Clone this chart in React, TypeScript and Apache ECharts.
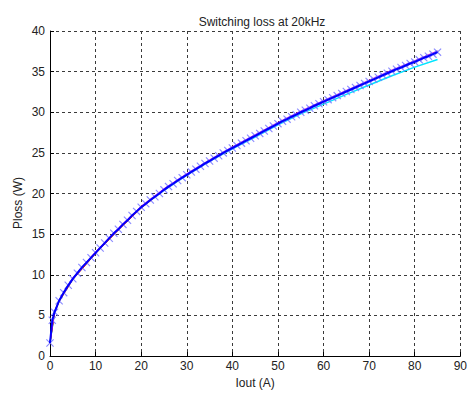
import React, { useEffect, useRef } from "react";
import * as echarts from "echarts";

const titleText = "Switching loss at 20kHz";
const xName = "Iout (A)";
const yName = "Ploss (W)";

const iout = [
  0, 0.5, 1, 2, 3, 4, 5, 6, 7, 8, 9, 10, 11, 12, 13, 14, 15, 16, 17, 18, 19, 20,
  21, 22, 23, 24, 25, 26, 27, 28, 29, 30, 31, 32, 33, 34, 35, 36, 37, 38, 39, 40,
  41, 42, 43, 44, 45, 46, 47, 48, 49, 50, 51, 52, 53, 54, 55, 56, 57, 58, 59, 60,
  61, 62, 63, 64, 65, 66, 67, 68, 69, 70, 71, 72, 73, 74, 75, 76, 77, 78, 79, 80,
  81, 82, 83, 84, 85,
];
const ploss = [
  1.6, 4.4, 5.4, 6.8, 7.8, 8.7, 9.5, 10.2, 10.9, 11.5, 12.1, 12.7, 13.3, 13.9, 14.5, 15.1, 15.6, 16.2, 16.7, 17.3, 17.8, 18.3,
  18.75, 19.2, 19.6, 20.0, 20.45, 20.85, 21.2, 21.6, 21.95, 22.3, 22.65, 23.0, 23.35, 23.7, 24.0, 24.35, 24.65, 25.0, 25.3, 25.6,
  25.9, 26.2, 26.5, 26.8, 27.1, 27.4, 27.7, 28.0, 28.3, 28.6, 28.9, 29.15, 29.45, 29.7, 30.0, 30.25, 30.5, 30.8, 31.05, 31.3,
  31.55, 31.8, 32.05, 32.3, 32.55, 32.8, 33.05, 33.3, 33.55, 33.8, 34.05, 34.3, 34.55, 34.8, 35.05, 35.3, 35.5, 35.75, 36.0, 36.2,
  36.45, 36.7, 36.9, 37.15, 37.4,
];

const coarseX = [0, 1, 2, 5, 10, 15, 20, 25, 30, 35, 40, 45, 50, 55, 60, 65, 70, 75, 80, 85];
const magentaY = [1.7, 5.5, 6.9, 9.65, 12.85, 15.75, 18.45, 20.6, 22.45, 24.15, 25.75, 27.25, 28.75, 30.15, 31.45, 32.7, 33.95, 35.2, 36.35, 37.55];
const cyanY = [1.6, 5.4, 6.8, 9.5, 12.7, 15.6, 18.3, 20.4, 22.25, 23.95, 25.5, 26.95, 28.45, 29.8, 31.0, 32.2, 33.35, 34.5, 35.55, 36.5];
const redY = [1.5, 5.3, 6.7, 9.4, 12.6, 15.5, 18.2, 20.4, 22.3, 24.0, 25.6, 27.1, 28.6, 30.0, 31.3, 32.55, 33.8, 35.05, 36.2, 37.4];
const greenY = [1.6, 5.4, 6.8, 9.5, 12.7, 15.6, 18.3, 20.45, 22.3, 24.0, 25.6, 27.1, 28.6, 30.0, 31.3, 32.6, 33.85, 35.1, 36.3, 37.5];

const pair = (xs: number[], ys: number[]) => xs.map((x, i) => [x, ys[i]]);

const X_SYMBOL = "path://M0,1L1,0L5,4L9,0L10,1L6,5L10,9L9,10L5,6L1,10L0,9L4,5Z";

export default function App() {
  const ref = useRef<HTMLDivElement>(null);
  useEffect(() => {
    document.body.style.margin = "0";
    const chart = echarts.init(ref.current!, null, { renderer: "svg" });
    const font = "Arial, 'Liberation Sans', Helvetica, sans-serif";
    const gridLine = { show: true, lineStyle: { color: "#3a3a3a", width: 1, type: [3, 3] as number[] } };
    const lineSeries = (name: string, data: number[][], color: string, width: number) => ({
      name,
      type: "line",
      data,
      showSymbol: false,
      symbol: "none",
      smooth: false,
      lineStyle: { color, width },
      itemStyle: { color },
      z: 2,
    });
    chart.setOption({
      animation: false,
      backgroundColor: "#ffffff",
      textStyle: { fontFamily: font },
      title: {
        text: titleText,
        left: 257,
        textAlign: "center",
        top: 11,
        textStyle: { fontSize: 12, fontWeight: "normal", color: "#222", fontFamily: font },
      },
      grid: { left: 50, right: 5, top: 31, bottom: 35, containLabel: false },
      xAxis: {
        type: "value",
        min: 0,
        max: 90,
        interval: 10,
        name: xName,
        nameLocation: "middle",
        nameGap: 21,
        nameTextStyle: { fontSize: 12, color: "#222", fontFamily: font },
        axisLine: { show: true, onZero: false, lineStyle: { color: "#000", width: 1 } },
        axisTick: { show: true, inside: true, length: 4, lineStyle: { color: "#000" } },
        axisLabel: { fontSize: 12, color: "#222", margin: 4, fontFamily: font, showMaxLabel: true },
        splitLine: gridLine,
      },
      yAxis: {
        type: "value",
        min: 0,
        max: 40,
        interval: 5,
        axisLine: { show: true, onZero: false, lineStyle: { color: "#000", width: 1 } },
        axisTick: { show: true, inside: true, length: 4, lineStyle: { color: "#000" } },
        axisLabel: { fontSize: 12, color: "#222", margin: 5, fontFamily: font },
        splitLine: gridLine,
      },
      graphic: [
        {
          type: "text",
          x: 18,
          y: 203,
          rotation: Math.PI / 2,
          style: {
            text: yName,
            fontSize: 12,
            fontFamily: font,
            fill: "#222",
            textAlign: "center",
            textVerticalAlign: "middle",
          },
        },
      ],
      series: [
        lineSeries("cyan", pair(coarseX, cyanY), "#00e5ff", 1.5),
        lineSeries("green", pair(coarseX, greenY), "#00a000", 1),
        lineSeries("red", pair(coarseX, redY), "#ff0000", 1),
        lineSeries("magenta", pair(coarseX, magentaY), "#ee00ee", 1),
        {
          name: "markers",
          type: "scatter",
          data: pair(iout, ploss),
          symbol: X_SYMBOL,
          symbolSize: 8,
          itemStyle: { color: "#7777ff", opacity: 0.85 },
          z: 3,
        },
        { ...lineSeries("blue", pair(iout, ploss), "#0000ff", 2), z: 4 },
      ],
    });
    return () => chart.dispose();
  }, []);
  return <div ref={ref} style={{ width: 470, height: 394 }} />;
}
